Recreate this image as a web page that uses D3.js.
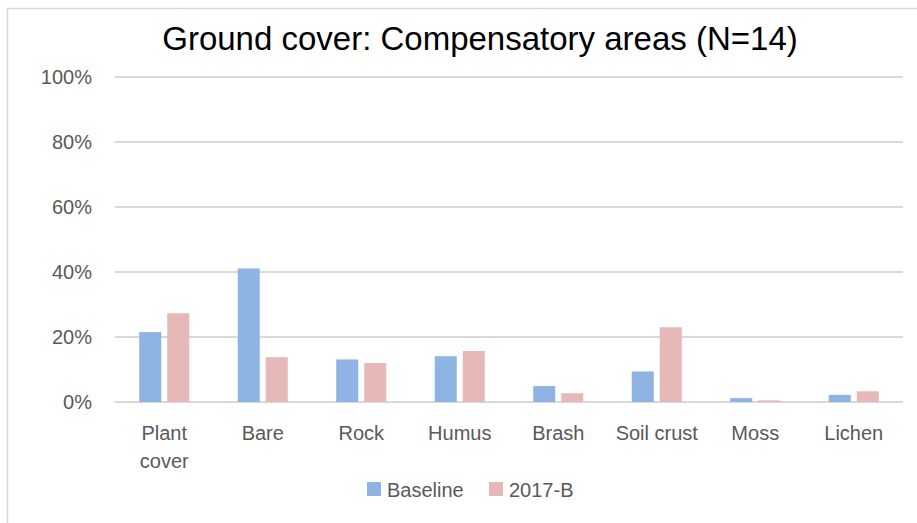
<!DOCTYPE html>
<meta charset="utf-8">
<style>
 body {
     margin: 0;
     background: #fff;
 }
 svg {
     font-family: "Liberation Sans", Arial, sans-serif;
     background: #fff;
 }
 .grid line {
     stroke: #d9d9d9;
     stroke-width: 1.3px;
     shape-rendering: crispEdges;
 }
 .tick-label, .cat-label, .legend text {
     fill: #595959;
 }
</style>
<body>
    <svg width="917" height="523"></svg>
</body>

<script src="https://d3js.org/d3.v7.min.js"></script>
<script>

 // categories and series (values in %)
 var categories = ["Plant cover", "Bare", "Rock", "Humus", "Brash", "Soil crust", "Moss", "Lichen"];
 var seriesNames = ["Baseline", "2017-B"];
 var baseline = [21.5, 41.1, 13.1, 14.1, 4.9, 9.4, 1.2, 2.2];
 var b2017 = [27.3, 13.8, 12.0, 15.7, 2.7, 23.0, 0.5, 3.3];
 var yTicks = [0, 20, 40, 60, 80, 100];
 var colors = ["#8eb4e3", "#e6b9b8"];
 var title = "Ground cover: Compensatory areas (N=14)";

 var rows = categories.map(function(c, i) {
     return {cat: c, vals: [baseline[i], b2017[i]]};
 });

 var svg = d3.select("svg"),
     margin = {top: 77, right: 14, bottom: 121, left: 115},
     width = +svg.attr("width") - margin.left - margin.right,
     height = +svg.attr("height") - margin.top - margin.bottom;

 // chart area frame (right/bottom edges fall outside the picture)
 svg.append("rect")
    .attr("x", 7.5).attr("y", 8.5)
    .attr("width", 930).attr("height", 540)
    .attr("fill", "none")
    .attr("stroke", "#d9d9d9")
    .attr("stroke-width", 1.5);

 svg.append("text")
    .attr("x", 480).attr("y", 50)
    .attr("text-anchor", "middle")
    .style("font-size", "33px")
    .style("fill", "#000")
    .text(title);

 var g = svg.append("g")
	    .attr("transform", "translate(" + margin.left + "," + margin.top + ")");

 var y = d3.scaleLinear().domain([0, 100]).range([height, 0]);
 var x0 = d3.scaleBand().domain(categories).range([0, width])
	    .paddingInner(0.492).paddingOuter(0.246);
 var x1 = d3.scaleBand().domain(seriesNames).range([0, x0.bandwidth()])
	    .paddingInner(0.214);

 g.append("g").attr("class", "grid")
  .selectAll("line")
  .data(yTicks)
  .enter().append("line")
  .attr("x1", 0).attr("x2", width)
  .attr("y1", function(d) { return y(d); })
  .attr("y2", function(d) { return y(d); });

 g.selectAll(".tick-label")
  .data(yTicks)
  .enter().append("text")
  .attr("class", "tick-label")
  .attr("x", -23)
  .attr("y", function(d) { return y(d); })
  .attr("dy", "0.35em")
  .attr("text-anchor", "end")
  .style("font-size", "20px")
  .text(function(d) { return d + "%"; });

 var groups = g.selectAll(".group")
	       .data(rows)
	       .enter().append("g")
	       .attr("transform", function(d) { return "translate(" + x0(d.cat) + ",0)"; });

 groups.selectAll("rect")
       .data(function(d) { return d.vals.map(function(v, i) { return {name: seriesNames[i], v: v, i: i}; }); })
       .enter().append("rect")
       .attr("x", function(d) { return x1(d.name); })
       .attr("width", x1.bandwidth())
       .attr("y", function(d) { return y(d.v); })
       .attr("height", function(d) { return height - y(d.v); })
       .attr("fill", function(d) { return colors[d.i]; });

 // category labels, wrapped on spaces only for "Plant cover"
 var cl = g.selectAll(".cat-label")
	   .data(rows)
	   .enter().append("text")
	   .attr("class", "cat-label")
	   .attr("text-anchor", "middle")
	   .style("font-size", "20px")
	   .attr("transform", function(d) { return "translate(" + (x0(d.cat) + x0.bandwidth() / 2) + "," + (height + 38) + ")"; });
 cl.each(function(d) {
     var lines = d.cat == "Plant cover" ? d.cat.split(" ") : [d.cat];
     var t = d3.select(this);
     lines.forEach(function(l, k) {
	 t.append("tspan").attr("x", 0).attr("y", k * 28).text(l);
     });
 });

 var legend = svg.append("g").attr("class", "legend");
 var legX = [367, 489];
 seriesNames.forEach(function(s, i) {
     legend.append("rect")
	   .attr("x", legX[i]).attr("y", 482)
	   .attr("width", 14).attr("height", 14)
	   .attr("fill", colors[i]);
     legend.append("text")
	   .attr("x", legX[i] + 20).attr("y", 497)
	   .style("font-size", "20px")
	   .text(s);
 });

</script>
</html>
